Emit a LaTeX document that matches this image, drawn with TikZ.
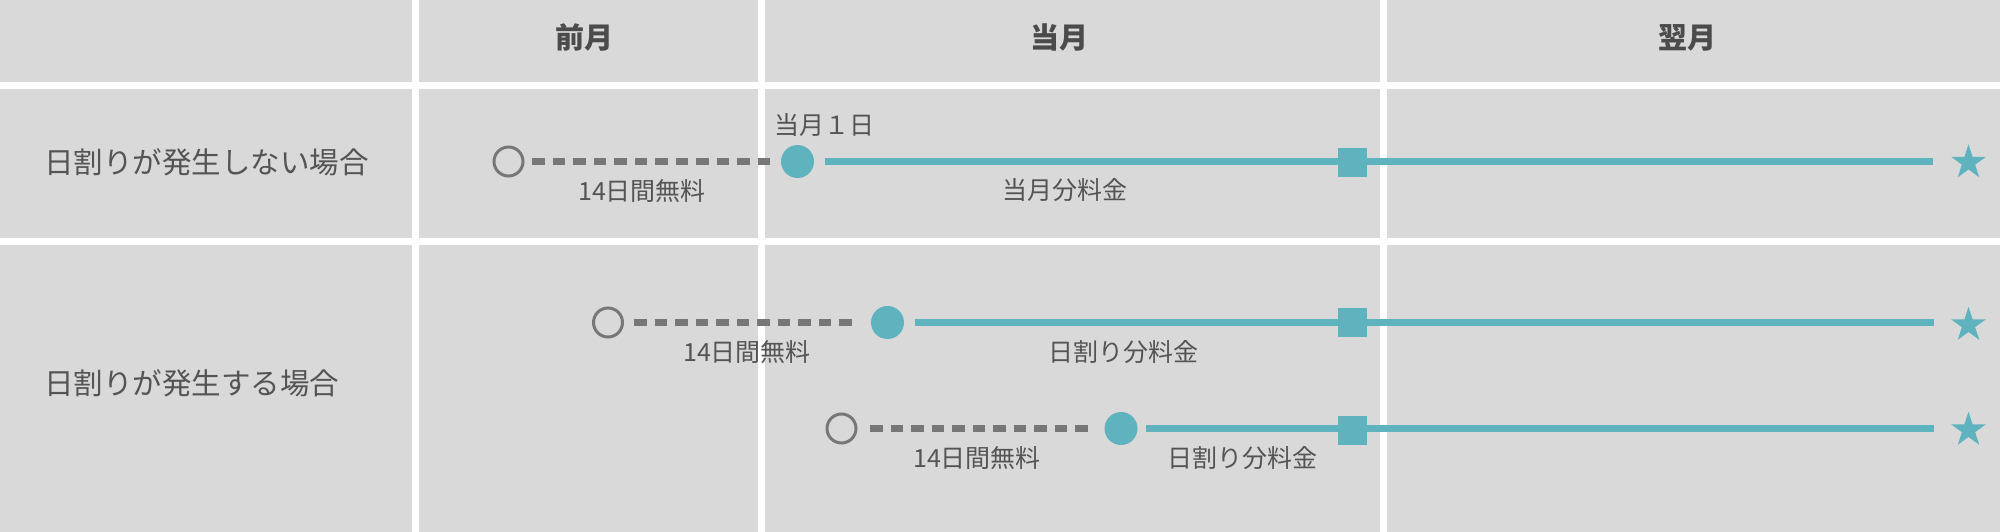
\documentclass[tikz,border=0pt]{standalone}
\usepackage{fontspec}
\setmainfont{Noto Sans CJK JP}
\usetikzlibrary{shapes.geometric}
\definecolor{cellbg}{HTML}{D9D9D9}
\definecolor{teal}{HTML}{5FB3BF}
\definecolor{dgray}{HTML}{777777}
\definecolor{txt}{HTML}{545454}
\tikzset{
  cell/.style={fill=cellbg, draw=none},
  opendot/.style={circle, draw=dgray, line width=3pt, fill=none, minimum size=29pt, inner sep=0pt},
  fulldot/.style={circle, fill=teal, draw=none, minimum size=33pt, inner sep=0pt},
  sqmark/.style={rectangle, fill=teal, draw=none, minimum size=29pt, inner sep=0pt},
  starmark/.style={star, star points=5, star point ratio=2.618, fill=teal, draw=none, minimum size=36.5pt, inner sep=0pt},
  freeline/.style={draw=dgray, line width=6.5pt, dash pattern=on 12.7pt off 7.8pt},
  payline/.style={draw=teal, line width=7pt},
  lbl/.style={text=txt, font=\fontsize{25}{30}\selectfont, inner sep=0pt},
  rowlbl/.style={text=txt, font=\fontsize{29.5}{34}\selectfont, inner sep=0pt},
  headlbl/.style={text=txt!90!black, font=\bfseries\fontsize{29}{34}\selectfont, inner sep=0pt}
}
\begin{document}
\begin{tikzpicture}[x=1pt,y=-1pt]
\useasboundingbox (0,0) rectangle (2000,532);
\fill[white] (0,0) rectangle (2000,532);
% cells
\foreach \xa/\xb in {0/412,419/758,765/1380,1387/2000}{
  \foreach \ya/\yb in {0/82,89/238,245/532}{
    \path[cell] (\xa,\ya) rectangle (\xb,\yb);
  }
}
% headers
\node[headlbl] (h1) at (584,37.5) {前月};
\node[headlbl] (h2) at (1059,37.5) {当月};
\node[headlbl] (h3) at (1687,37.5) {翌月};
% row labels
\node[rowlbl, anchor=west] (r1) at (44,162) {日割りが発生しない場合};
\node[rowlbl, anchor=west] (r2) at (44,383) {日割りが発生する場合};

% row 1
\node[opendot] (o1) at (508.5,161.5) {};
\node[fulldot] (f1) at (797.5,161.5) {};
\node[sqmark]  (s1) at (1352.5,162.5) {};
\node[starmark] (t1) at (1968.5,162.5) {};
\draw[freeline, shorten <=23.5pt, shorten >=25.5pt] (o1.center) -- (f1.center);
\draw[payline, shorten <=27.5pt, shorten >=35.5pt] (f1.center) -- (t1.center |- f1.center);
\node[sqmark] at (s1) {};
\node[lbl] (a1) at (824,125) {当月１日};
\node[lbl] (b1) at (642,191) {14日間無料};
\node[lbl] (c1) at (1065,190) {当月分料金};

% row 2
\node[opendot] (o2) at (608,322.5) {};
\node[fulldot] (f2) at (887.5,322.5) {};
\node[sqmark]  (s2) at (1352.5,322.5) {};
\node[starmark] (t2) at (1968.5,325) {};
\draw[freeline, shorten <=26pt, shorten >=28.5pt] (o2.center) -- (f2.center);
\draw[payline, shorten <=27.5pt, shorten >=34.5pt] (f2.center) -- (t2.center |- f2.center);
\node[sqmark] at (s2) {};
\node[lbl] (b2) at (747,352) {14日間無料};
\node[lbl] (c2) at (1123,352) {日割り分料金};

% row 3
\node[opendot] (o3) at (841.5,428.5) {};
\node[fulldot] (f3) at (1121,428.5) {};
\node[sqmark]  (s3) at (1352.5,430.5) {};
\node[starmark] (t3) at (1968.5,430) {};
\draw[freeline, shorten <=28.5pt, shorten >=26pt] (o3.center) -- (f3.center);
\draw[payline, shorten <=25pt, shorten >=34.5pt] (f3.center) -- (t3.center |- f3.center);
\node[sqmark] at (s3) {};
\node[lbl] (b3) at (977,458) {14日間無料};
\node[lbl] (c3) at (1242,458) {日割り分料金};
\end{tikzpicture}
\end{document}
